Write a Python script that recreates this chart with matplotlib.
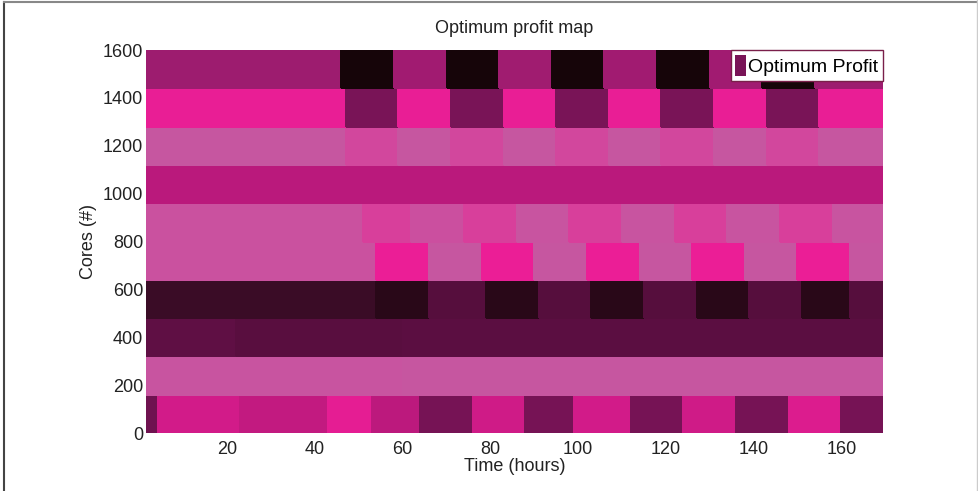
import matplotlib
matplotlib.use('Agg')
import matplotlib.pyplot as plt
import numpy as np
from matplotlib.colors import LinearSegmentedColormap
from matplotlib.patches import Patch
from matplotlib.lines import Line2D

plt.rcParams['font.family'] = ['Liberation Sans', 'DejaVu Sans']

# ---------------- data ----------------
title = "Optimum profit map"
x_label = "Time (hours)"
y_label = "Cores (#)"
legend_label = "Optimum Profit"
x_ticks = [20, 40, 60, 80, 100, 120, 140, 160]
y_ticks = [0, 200, 400, 600, 800, 1000, 1200, 1400, 1600]
time_range = (1.5, 169.5)
core_edges = [0, 160, 320, 480, 640, 800, 960, 1120, 1280, 1440, 1600]

# each core band: time breakpoints (hours) and normalised profit per segment
band1_times = [1.5, 4.3, 23, 43, 53, 64, 76, 88, 99, 112, 124, 136, 148, 160, 169.5]
band1_profit = [0.38, 0.72, 0.67, 0.78, 0.65, 0.40, 0.71, 0.40, 0.72, 0.40, 0.71, 0.40, 0.75, 0.40]

band2_times = [1.5, 60, 169.5]
band2_profit = [0.99, 1.0]

band3_times = [1.5, 22, 60, 169.5]
band3_profit = [0.33, 0.31, 0.32]

band4_times = [1.5, 54, 66, 79, 91, 103, 115, 127, 139, 151, 162, 169.5]
band4_profit = [0.19, 0.10, 0.30, 0.10, 0.30, 0.10, 0.30, 0.10, 0.30, 0.10, 0.30]

band5_times = [1.5, 54, 66, 78, 90, 102, 114, 126, 138, 150, 162, 169.5]
band5_profit = [0.98, 0.80, 1.0, 0.80, 1.0, 0.80, 1.0, 0.80, 1.0, 0.80, 1.0]

band6_times = [1.5, 51, 62, 74, 86, 98, 110, 122, 134, 146, 158, 169.5]
band6_profit = [0.98, 0.91, 0.97, 0.91, 0.99, 0.91, 0.99, 0.91, 0.99, 0.91, 0.99]

band7_times = [1.5, 169.5]
band7_profit = [0.64]

band8_times = [1.5, 47, 59, 71, 83, 95, 107, 119, 131, 143, 155, 169.5]
band8_profit = [1.0, 0.94, 1.0, 0.94, 1.0, 0.94, 1.0, 0.94, 1.0, 0.94, 1.0]

band9_times = [1.5, 47, 59, 71, 83, 95, 107, 119, 131, 143, 155, 169.5]
band9_profit = [0.79, 0.41, 0.79, 0.41, 0.79, 0.41, 0.79, 0.41, 0.79, 0.41, 0.79]

band10_times = [1.5, 46, 58, 70, 82, 94, 106, 118, 130, 142, 154, 169.5]
band10_profit = [0.51, 0.0, 0.53, 0.0, 0.52, 0.0, 0.53, 0.0, 0.53, 0.0, 0.51]

legend_value = 0.41

band_times = [band1_times, band2_times, band3_times, band4_times, band5_times,
              band6_times, band7_times, band8_times, band9_times, band10_times]
band_profit = [band1_profit, band2_profit, band3_profit, band4_profit, band5_profit,
               band6_profit, band7_profit, band8_profit, band9_profit, band10_profit]

# ---------------- style ----------------
cmap = LinearSegmentedColormap.from_list('profit', [
    (0.0, '#160509'), (0.2, '#3c0c28'), (0.35, '#640f48'), (0.5, '#9b1c6e'),
    (0.65, '#bc197d'), (0.8, '#eb1e96'), (0.9, '#da3c9b'), (1.0, '#c656a0')])

fig = plt.figure(figsize=(9.79, 4.91), dpi=100)
ax = fig.add_axes([146 / 979, 1 - 433 / 491, 737 / 979, 383 / 491])

for i in range(len(band_times)):
    ax.pcolormesh(band_times[i], [core_edges[i], core_edges[i + 1]],
                  np.array([band_profit[i]]), cmap=cmap, vmin=0, vmax=1,
                  shading='flat', edgecolor='face', linewidth=0.3)

ax.set_xlim(*time_range)
ax.set_ylim(core_edges[0], core_edges[-1])
ax.set_xticks(x_ticks)
ax.set_yticks(y_ticks)
ax.tick_params(axis='both', direction='in', length=0, labelsize=13, colors='#222222')
ax.tick_params(axis='x', pad=6)
ax.tick_params(axis='y', pad=2)
for s in ax.spines.values():
    s.set_visible(False)

ax.set_title(title, fontsize=13, pad=12, color='#222222')
ax.set_xlabel(x_label, fontsize=13, labelpad=0, color='#222222')
ax.set_ylabel(y_label, fontsize=13, labelpad=4, color='#222222')

handle = Patch(facecolor=cmap(legend_value), edgecolor='none')
leg = ax.legend([handle], [legend_label], loc='upper right', fontsize=14,
                borderaxespad=0, fancybox=False, framealpha=1,
                handlelength=0.55, handleheight=1.3, handletextpad=0.1,
                borderpad=0.25, labelspacing=0)
leg.get_frame().set_edgecolor('#7a1f4a')
leg.get_frame().set_linewidth(1.0)

# figure frame
fig.add_artist(Line2D([4.5 / 979, 4.5 / 979], [0, 1 - 2 / 491], transform=fig.transFigure,
                      color='#444444', linewidth=1.5))
fig.add_artist(Line2D([4.5 / 979, 1], [1 - 1.5 / 491, 1 - 1.5 / 491], transform=fig.transFigure,
                      color='#888888', linewidth=1.5))
fig.add_artist(Line2D([977.5 / 979, 977.5 / 979], [0, 1], transform=fig.transFigure,
                      color='#cccccc', linewidth=1.0))

fig.savefig('out.png', dpi=100)
